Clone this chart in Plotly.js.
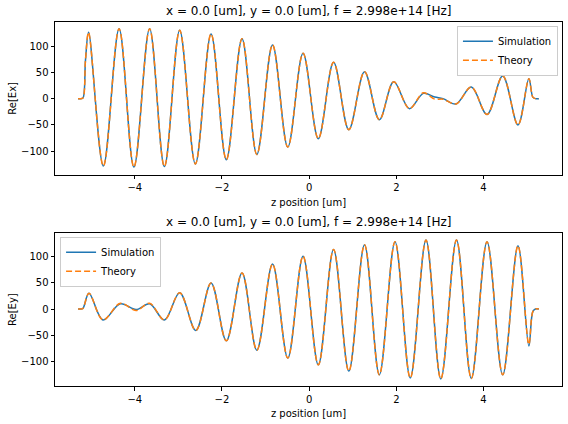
<!DOCTYPE html>
<html>
<head>
<meta charset="utf-8">
<script src="https://cdn.plot.ly/plotly-3.0.1.min.js"></script>
<style>
  html, body { margin: 0; padding: 0; background: #fff; }
  #chart { width: 568px; height: 424px; }
</style>
</head>
<body>
<div id="chart"></div>
<script>
// z positions [um] of the extrema / turning points
const zTop = [-5.30, -5.24, -5.19, -5.13, -5.06, -4.72, -4.36, -4.02, -3.66, -3.32,
  -2.97, -2.61, -2.25, -1.90, -1.54, -1.20, -0.84, -0.49, -0.14, 0.21,
  0.56, 0.91, 1.27, 1.61, 1.94, 2.30, 2.62, 2.88, 3.07, 3.37,
  3.72, 4.08, 4.44, 4.79, 5.04, 5.13, 5.19, 5.27];
const exSim = [0, 0, 1, 74, 126, -128, 133, -130, 133, -129,
  130, -124, 123, -116, 114, -106, 102, -92, 86, -76,
  69, -59, 51, -40, 32, -19, 10, 3, 0, -10,
  22, -30, 43, -50, 38, 3, 0, 0];
const exTheory = [0, 0, 1, 74, 126, -128, 133, -130, 133, -129,
  130, -124, 123, -116, 114, -106, 102, -92, 86, -76,
  69, -59, 51, -40, 32, -19, 11, -1, -1, -10,
  22, -30, 43, -50, 38, 3, 0, 0];

const zBot = [-5.30, -5.24, -5.19, -5.05, -4.73, -4.33, -3.97, -3.66, -3.32, -2.97,
  -2.60, -2.25, -1.90, -1.54, -1.20, -0.84, -0.49, -0.14, 0.21, 0.56,
  0.91, 1.27, 1.61, 1.97, 2.32, 2.68, 3.02, 3.38, 3.72, 4.08,
  4.44, 4.79, 5.04, 5.13, 5.19, 5.27];
const eySim = [0, 0, 1, 30, -21, 10, -1, 10, -21, 31,
  -41, 50, -61, 69, -79, 86, -94, 101, -107, 114,
  -119, 123, -126, 129, -132, 132, -134, 132, -133, 129,
  -126, 121, -71, -5, 0, 0];
const eyTheory = [0, 0, 1, 30, -21, 11, -3, 11, -21, 31,
  -41, 50, -61, 69, -79, 86, -94, 101, -107, 114,
  -119, 123, -126, 129, -132, 132, -134, 132, -133, 129,
  -126, 121, -68, -5, 0, 0];

const titleText = 'x = 0.0 [um], y = 0.0 [um], f = 2.998e+14 [Hz]';
const blue = '#1f77b4', orange = '#ff7f0e';
const font = {family: 'DejaVu Sans, sans-serif', size: 10, color: '#000'};

function line(x, y, name, color, dash, xa, ya, legend) {
	return {
		x: x, y: y, name: name, type: 'scatter', mode: 'lines',
		line: {color: color, width: 1.5, dash: dash, shape: 'spline', smoothing: 1},
		xaxis: xa, yaxis: ya, legend: legend
	};
}

let data = [
	line(zTop, exSim, 'Simulation', blue, 'solid', 'x', 'y', 'legend'),
	line(zTop, exTheory, 'Theory', orange, '6px,3px', 'x', 'y', 'legend'),
	line(zBot, eySim, 'Simulation', blue, 'solid', 'x2', 'y2', 'legend2'),
	line(zBot, eyTheory, 'Theory', orange, '6px,3px', 'x2', 'y2', 'legend2')
];

let axis = {
	showline: true, mirror: true, linecolor: '#000', linewidth: 1,
	ticks: 'outside', ticklen: 3.5, tickwidth: 1, tickcolor: '#000',
	showgrid: false, zeroline: false, tickfont: font
};

let legendStyle = {
	font: font, bgcolor: 'rgba(255,255,255,0.8)', bordercolor: '#cccccc', borderwidth: 1,
	itemwidth: 30, tracegroupgap: 0
};

let layout = {
	width: 568, height: 424,
	margin: {l: 55, r: 6, t: 22, b: 38},
	paper_bgcolor: '#fff', plot_bgcolor: '#fff',
	font: font,
	xaxis: Object.assign({}, axis, {domain: [0, 1], anchor: 'y', range: [-5.83, 5.80],
		tickvals: [-4, -2, 0, 2, 4], title: {text: 'z position [um]', font: font, standoff: 6}}),
	yaxis: Object.assign({}, axis, {domain: [0.5805, 1], anchor: 'x', range: [-144.5, 145.6],
		tickvals: [-100, -50, 0, 50, 100], title: {text: 'Re[Ex]', font: font, standoff: 2}}),
	xaxis2: Object.assign({}, axis, {domain: [0, 1], anchor: 'y2', range: [-5.83, 5.80],
		tickvals: [-4, -2, 0, 2, 4], title: {text: 'z position [um]', font: font, standoff: 6}}),
	yaxis2: Object.assign({}, axis, {domain: [0, 0.4195], anchor: 'x2', range: [-147.5, 145],
		tickvals: [-100, -50, 0, 50, 100], title: {text: 'Re[Ey]', font: font, standoff: 2}}),
	legend: Object.assign({}, legendStyle, {x: 0.992, xanchor: 'right', y: 0.99, yanchor: 'top'}),
	legend2: Object.assign({}, legendStyle, {x: 0.01, xanchor: 'left', y: 0.41, yanchor: 'top'}),
	annotations: [
		{text: titleText, xref: 'paper', yref: 'paper', x: 0.5, y: 1, yanchor: 'bottom',
			showarrow: false, yshift: 2, font: {family: font.family, size: 12, color: '#000'}},
		{text: titleText, xref: 'paper', yref: 'paper', x: 0.5, y: 0.4195, yanchor: 'bottom',
			showarrow: false, yshift: 2, font: {family: font.family, size: 12, color: '#000'}}
	]
};

Plotly.newPlot('chart', data, layout, {displayModeBar: false, staticPlot: true});
</script>
</body>
</html>
